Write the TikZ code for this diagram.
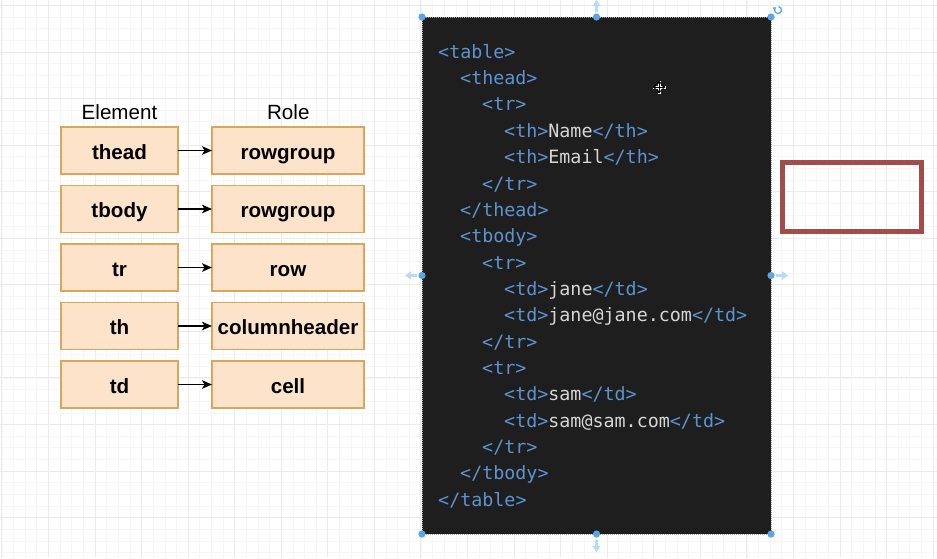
\documentclass[tikz,border=0pt]{standalone}
\usepackage{fontspec}
\setmainfont{Liberation Sans}
\setmonofont{DejaVu Sans Mono}
\usetikzlibrary{positioning,arrows.meta}
\definecolor{peach}{HTML}{FCE3CA}
\definecolor{peachline}{HTML}{D8A65C}
\definecolor{codebg}{HTML}{1E1E1E}
\definecolor{tagblue}{HTML}{5C93D1}
\definecolor{codetext}{HTML}{D6D6D6}
\definecolor{framered}{HTML}{A34D4A}
\definecolor{handleblue}{HTML}{5AA5E8}
\definecolor{handlelight}{HTML}{B7DAF6}
\definecolor{gridminor}{HTML}{F6F6F6}
\definecolor{gridmajor}{HTML}{EBEBEB}
\tikzset{
  elem/.style={rectangle, draw=peachline, fill=peach, line width=1.4pt,
               minimum height=47pt, minimum width=117pt, inner sep=0pt, outer sep=0pt,
               text height=17pt, text depth=0pt,
               font=\fontsize{20.6}{24}\selectfont\bfseries},
  role/.style={elem, minimum width=152pt},
  head/.style={anchor=base, inner sep=0pt, font=\fontsize{20.6}{24}\selectfont},
  arr/.style={-{Stealth[length=10pt,width=8.5pt,inset=2.5pt]}, line width=1.5pt, draw=black},
  codebox/.style={rectangle, fill=codebg, draw=gray!70, line width=0.6pt,
                  dash pattern=on 1pt off 1pt, inner sep=0pt, outer sep=0pt,
                  minimum width=349pt, minimum height=517pt},
  codeline/.style={anchor=base west, inner sep=0pt, text=codetext,
                   font=\ttfamily\fontsize{18.35}{22}\selectfont},
  redframe/.style={rectangle, draw=framered, line width=5pt, inner sep=0pt,
                   minimum width=139pt, minimum height=69pt},
  handle/.style={fill=handleblue},
  harrow/.style={-{Triangle[length=6pt,width=8pt]}, draw=handlelight, line width=2.5pt},
}
\newcommand{\tg}[1]{\textcolor{tagblue}{#1}}

\begin{document}
\begin{tikzpicture}[x=1pt, y=-1pt, node distance=11.5pt and 34pt]
  \useasboundingbox[fill=white] (0,0) rectangle (937,558);
  % background grid
  \foreach \x in {1.9,13.54,...,937} \draw[gridminor, line width=0.7pt] (\x,0) -- (\x,558);
  \foreach \y in {5.44,17.08,...,558} \draw[gridminor, line width=0.7pt] (0,\y) -- (937,\y);
  \foreach \x in {1.9,48.46,...,937} \draw[gridmajor, line width=0.9pt] (\x,0) -- (\x,558);
  \foreach \y in {5.44,52,...,558} \draw[gridmajor, line width=0.9pt] (0,\y) -- (937,\y);

  % element -> role mapping
  \node[head] (hElem) at (119.5,119.3) {Element};
  \node[head] (hRole) at (288.3,119.3) {Role};
  \node[elem] (eThead) at (119.5,150.5) {thead};
  \node[elem, below=of eThead] (eTbody) {tbody};
  \node[elem, below=of eTbody] (eTr) {tr};
  \node[elem, below=of eTr] (eTh) {th};
  \node[elem, below=of eTh] (eTd) {td};
  \node[role, right=of eThead] (rThead) {rowgroup};
  \node[role, right=of eTbody] (rTbody) {rowgroup};
  \node[role, right=of eTr] (rTr) {row};
  \node[role, right=of eTh] (rTh) {columnheader};
  \node[role, right=of eTd] (rTd) {cell};
  \foreach \n in {Thead,Tbody,Tr,Th,Td}
    \draw[arr] (e\n) -- (r\n);

  % code sample
  \node[codebox] (code) at (596.5,275.5) {};
  \foreach \ind/\txt [count=\k from 0] in {
      0/{\tg{<table>}},
      1/{\tg{<thead>}},
      2/{\tg{<tr>}},
      3/{\tg{<th>}Name\tg{</th>}},
      3/{\tg{<th>}Email\tg{</th>}},
      2/{\tg{</tr>}},
      1/{\tg{</thead>}},
      1/{\tg{<tbody>}},
      2/{\tg{<tr>}},
      3/{\tg{<td>}jane\tg{</td>}},
      3/{\tg{<td>}jane@jane.com\tg{</td>}},
      2/{\tg{</tr>}},
      2/{\tg{<tr>}},
      3/{\tg{<td>}sam\tg{</td>}},
      3/{\tg{<td>}sam@sam.com\tg{</td>}},
      2/{\tg{</tr>}},
      1/{\tg{</tbody>}},
      0/{\tg{</table>}}}
    \node[codeline] (line\k) at (438+22*\ind, 58.3+26.34*\k) {\txt};

  % selection handles
  \foreach \a in {north west,north,north east,west,east,south west,south,south east}
    \fill[handle] (code.\a) circle (3.6pt);
  \draw[harrow] ([yshift=5pt]code.north) -- ([yshift=17pt]code.north);
  \draw[harrow] ([yshift=-6pt]code.south) -- ([yshift=-18pt]code.south);
  \draw[harrow] ([xshift=-5pt]code.west) -- ([xshift=-17pt]code.west);
  \draw[harrow] ([xshift=5pt]code.east) -- ([xshift=17pt]code.east);
  \coordinate (rot) at ([xshift=7pt,yshift=7pt]code.north east);
  \draw[handleblue, line width=1.3pt, -{Triangle[length=2.5pt,width=3.5pt]}]
    ([shift={(80:3.5pt)}]rot) arc[start angle=80, end angle=-230, radius=3.5pt];
  \coordinate (mv) at (659,87);
  \draw[white, line width=3pt] ([xshift=-6.5pt]mv) -- ([xshift=6.5pt]mv)
    ([yshift=-6.5pt]mv) -- ([yshift=6.5pt]mv);
  \draw[black, line width=1pt, {Triangle[length=3pt,width=4.5pt]}-{Triangle[length=3pt,width=4.5pt]}]
    ([xshift=-6.5pt]mv) -- ([xshift=6.5pt]mv);
  \draw[black, line width=1pt, {Triangle[length=3pt,width=4.5pt]}-{Triangle[length=3pt,width=4.5pt]}]
    ([yshift=-6.5pt]mv) -- ([yshift=6.5pt]mv);

  % empty red frame
  \node[redframe] (frame) at (852,197) {};
\end{tikzpicture}
\end{document}
